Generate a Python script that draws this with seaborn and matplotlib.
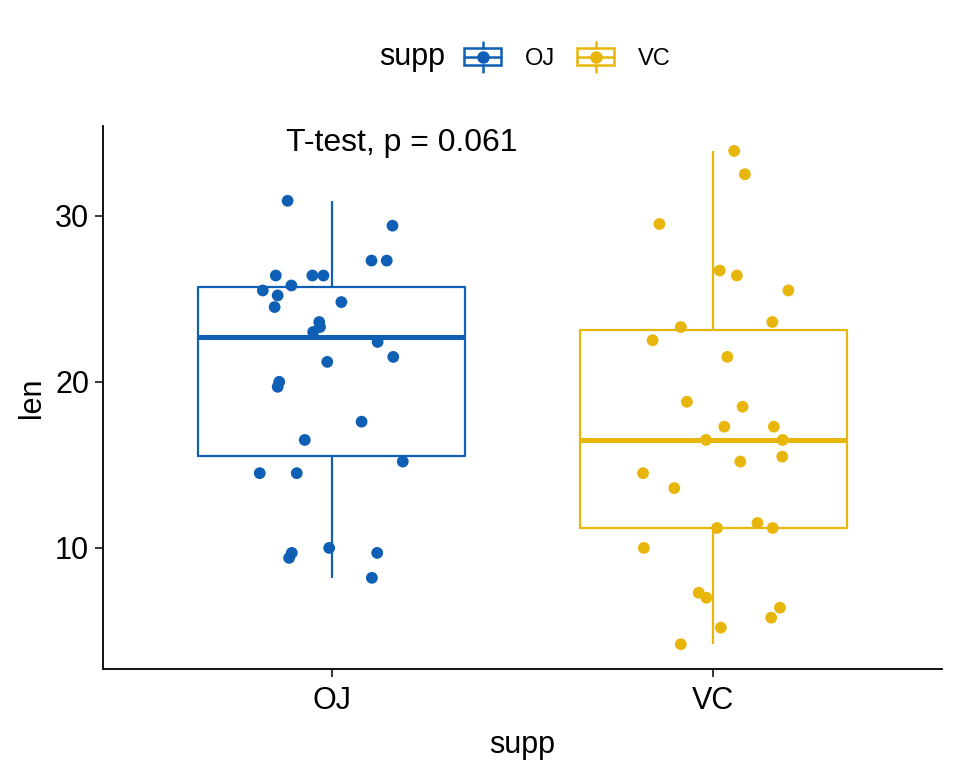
import numpy as np
import pandas as pd
import matplotlib
matplotlib.use("Agg")
import matplotlib.pyplot as plt
import seaborn as sns
from matplotlib.lines import Line2D
from matplotlib.patches import Rectangle
from matplotlib.legend_handler import HandlerBase

# ToothGrowth len values, grouped by supplement
oj_len = [30.9, 29.4, 27.3, 27.3, 26.4, 26.4, 26.4, 25.5, 25.2, 25.8,
          24.8, 24.5, 23.6, 23.3, 23.0, 22.4, 21.5, 21.2, 20.0, 19.7,
          17.6, 16.5, 15.2, 14.5, 14.5, 10.0, 9.7, 9.7, 9.4, 8.2]
vc_len = [33.9, 32.5, 29.5, 26.7, 26.4, 25.5, 23.6, 23.3, 22.5, 21.5,
          18.8, 18.5, 17.3, 17.3, 16.5, 16.5, 15.5, 15.2, 14.5, 13.6,
          11.5, 11.2, 11.2, 10.0, 7.3, 7.0, 6.4, 5.8, 5.2, 4.2]

# horizontal jitter (category units)
oj_jitter = [-0.116, 0.159, 0.104, 0.144, -0.147, -0.051, -0.022, -0.181, -0.142, -0.106,
             0.025, -0.150, -0.033, -0.031, -0.049, 0.120, 0.161, -0.012, -0.138, -0.142,
             0.078, -0.071, 0.186, -0.189, -0.092, -0.007, -0.105, 0.119, -0.112, 0.105]
vc_jitter = [0.055, 0.083, -0.141, 0.017, 0.062, 0.197, 0.155, -0.085, -0.159, 0.037,
             -0.069, 0.077, 0.029, 0.159, -0.019, 0.182, 0.181, 0.071, -0.184, -0.102,
             0.116, 0.010, 0.156, -0.182, -0.038, -0.018, 0.175, 0.152, 0.020, -0.085]

groups = ["OJ", "VC"]
colors = {"OJ": "#0F5FB4", "VC": "#E8B60A"}
p_label = "T-test, p = 0.061"

df = pd.DataFrame({
    "supp": ["OJ"] * len(oj_len) + ["VC"] * len(vc_len),
    "len": oj_len + vc_len,
    "jit": oj_jitter + vc_jitter,
})

sns.set_style("white")
plt.rcParams["font.family"] = ["Liberation Sans", "DejaVu Sans"]
plt.rcParams["text.color"] = "black"
plt.rcParams["axes.labelcolor"] = "black"

fig = plt.figure(figsize=(9.6, 7.68), dpi=100)
ax = fig.add_axes([0.1073, 0.1289, 0.874, 0.707])

sns.boxplot(data=df, x="supp", y="len", hue="supp", palette=colors, order=groups,
            fill=False, width=0.7, linewidth=1.6, showfliers=False, showcaps=False,
            medianprops={"linewidth": 3.6}, legend=False, ax=ax)

for i, g in enumerate(groups):
    sub = df[df["supp"] == g]
    ax.scatter(i + sub["jit"], sub["len"], s=72, color=colors[g],
               edgecolor="none", zorder=5)

ax.text(-0.12, 34.4, p_label, fontsize=23, ha="left", va="center")

ax.set_xlim(-0.6, 1.6)
ax.set_ylim(2.71, 35.4)
ax.set_yticks([10, 20, 30])
ax.set_xlabel("supp", fontsize=22, labelpad=10)
ax.set_ylabel("len", fontsize=22, labelpad=6)
ax.tick_params(axis="both", labelsize=22, length=6, width=1.1, color="black",
               direction="out", left=True, bottom=True, labelcolor="black", pad=4)
ax.tick_params(axis="x", pad=6)
sns.despine(ax=ax)
for s in ["left", "bottom"]:
    ax.spines[s].set_color("black")
    ax.spines[s].set_linewidth(1.3)


class BoxHandler(HandlerBase):
    def create_artists(self, legend, orig_handle, xdescent, ydescent,
                       width, height, fontsize, trans):
        c = orig_handle.get_color()
        x0, y0 = -xdescent, -ydescent
        cx, cy = x0 + width / 2, y0 + height / 2
        box = Rectangle((x0, y0 + height * 0.2), width, height * 0.6,
                        facecolor="none", edgecolor=c, lw=1.8, transform=trans)
        mid = Line2D([x0, x0 + width], [cy, cy], color=c, lw=1.8, transform=trans)
        whisk1 = Line2D([cx, cx], [y0 - height * 0.02, y0 + height * 0.2], color=c, lw=1.8, transform=trans)
        whisk2 = Line2D([cx, cx], [y0 + height * 0.8, y0 + height * 1.02], color=c, lw=1.8, transform=trans)
        dot = Line2D([cx], [cy], marker="o", markersize=8, color=c, lw=0, transform=trans)
        return [box, mid, whisk1, whisk2, dot]


handles = [Line2D([], [], color=colors[g]) for g in groups]
fig.legend(handles, groups, handler_map={Line2D: BoxHandler()}, loc="center",
           bbox_to_anchor=(0.591, 0.926), ncol=2, frameon=False, fontsize=17,
           handlelength=1.57, handleheight=1.5, columnspacing=0.95, handletextpad=1.0)
fig.text(0.464, 0.926, "supp", fontsize=22, ha="right", va="center")

fig.savefig("out.png", dpi=100)
